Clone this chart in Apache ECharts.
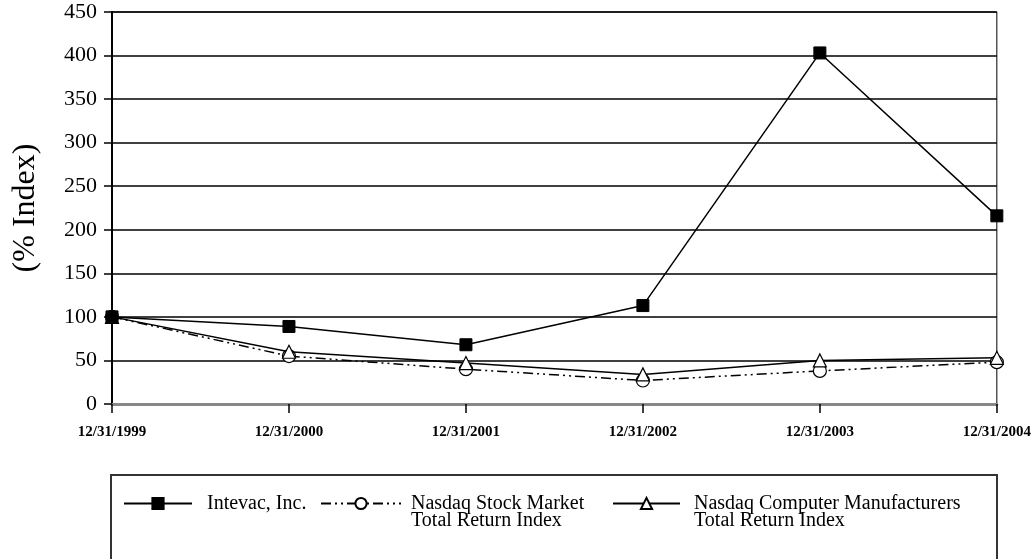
<!DOCTYPE html>
<html>
<head>
<meta charset="utf-8">
<script src="https://cdn.jsdelivr.net/npm/echarts@6/dist/echarts.min.js"></script>
<style>
html,body{margin:0;padding:0;background:#fff;}
#chart{width:1034px;height:559px;}
</style>
</head>
<body>
<div id="chart"></div>
<script>
const categories = ['12/31/1999', '12/31/2000', '12/31/2001', '12/31/2002', '12/31/2003', '12/31/2004'];
const intevac = [100, 89, 68, 113, 403, 216];
const nasdaqStock = [100, 55, 40, 27, 38, 48];
const nasdaqComputer = [100, 60, 47, 34, 50, 53];
const seriesNames = ['Intevac, Inc.', 'Nasdaq Stock Market Total Return Index', 'Nasdaq Computer Manufacturers Total Return Index'];
const legendLabels = ['Intevac, Inc.', '\nNasdaq Stock Market\nTotal Return Index', '\nNasdaq Computer Manufacturers\nTotal Return Index'];
const yTicks = { min: 0, max: 450, interval: 50 };

const FONT = "'Liberation Serif', 'Times New Roman', serif";
const chart = echarts.init(document.getElementById('chart'), null, { renderer: 'canvas' });

function legendAt(idx, left, top, iconW, padLeft) {
  return {
    data: [seriesNames[idx]],
    left: left,
    top: top,
    orient: 'horizontal',
    padding: 0,
    itemWidth: iconW,
    itemHeight: 14,
    selectedMode: false,
    formatter: function () { return legendLabels[idx]; },
    textStyle: {
      fontFamily: FONT,
      fontSize: 20,
      color: '#000',
      lineHeight: 17,
      padding: [0, 0, 0, padLeft]
    }
  };
}

const option = {
  backgroundColor: '#fff',
  animation: false,
  grid: { left: 112, right: 37, top: 12, bottom: 155, show: true, borderColor: '#000', borderWidth: 1 },
  xAxis: {
    type: 'category',
    data: categories,
    boundaryGap: false,
    axisLine: { show: true, lineStyle: { color: '#888', width: 3 } },
    axisTick: { show: true, length: 9, lineStyle: { color: '#000', width: 1.5 } },
    axisLabel: { fontFamily: FONT, fontSize: 15, color: '#000', margin: 21, fontWeight: 'bold' },
    splitLine: { show: false }
  },
  yAxis: {
    type: 'value',
    min: yTicks.min,
    max: yTicks.max,
    interval: yTicks.interval,
    name: '(% Index)',
    nameLocation: 'middle',
    nameGap: 70,
    nameTextStyle: { fontFamily: FONT, fontSize: 32, color: '#000' },
    axisLine: { show: true, lineStyle: { color: '#000', width: 2 } },
    axisTick: { show: true, length: 8, lineStyle: { color: '#000', width: 1.5 } },
    axisLabel: { fontFamily: FONT, fontSize: 22, color: '#000', margin: 15 },
    splitLine: { show: true, lineStyle: { color: '#000', width: 1.5 } }
  },
  legend: [
    legendAt(0, 123, 493.5, 68, 10),
    legendAt(1, 320, 476.5, 80, 5),
    legendAt(2, 612, 476.5, 67, 9)
  ],
  graphic: [
    {
      type: 'rect',
      shape: { x: 111, y: 475, width: 886, height: 120 },
      style: { fill: 'none', stroke: '#333', lineWidth: 2 },
      silent: true
    }
  ],
  series: [
    {
      name: seriesNames[0],
      type: 'line',
      data: intevac,
      z: 5,
      symbol: 'rect',
      symbolSize: 12,
      lineStyle: { color: '#000', width: 1.5 },
      itemStyle: { color: '#000', borderColor: '#000', borderWidth: 1 }
    },
    {
      name: seriesNames[1],
      type: 'line',
      data: nasdaqStock,
      z: 3,
      symbol: 'circle',
      symbolSize: 13,
      lineStyle: { color: '#000', width: 1.5, type: [10, 4, 2, 4, 2, 4] },
      itemStyle: { color: '#fff', borderColor: '#000', borderWidth: 1.2 }
    },
    {
      name: seriesNames[2],
      type: 'line',
      data: nasdaqComputer,
      z: 4,
      symbol: 'triangle',
      symbolSize: 13,
      lineStyle: { color: '#000', width: 1.5 },
      itemStyle: { color: '#fff', borderColor: '#000', borderWidth: 1.2 }
    }
  ]
};
chart.setOption(option);
</script>
</body>
</html>
